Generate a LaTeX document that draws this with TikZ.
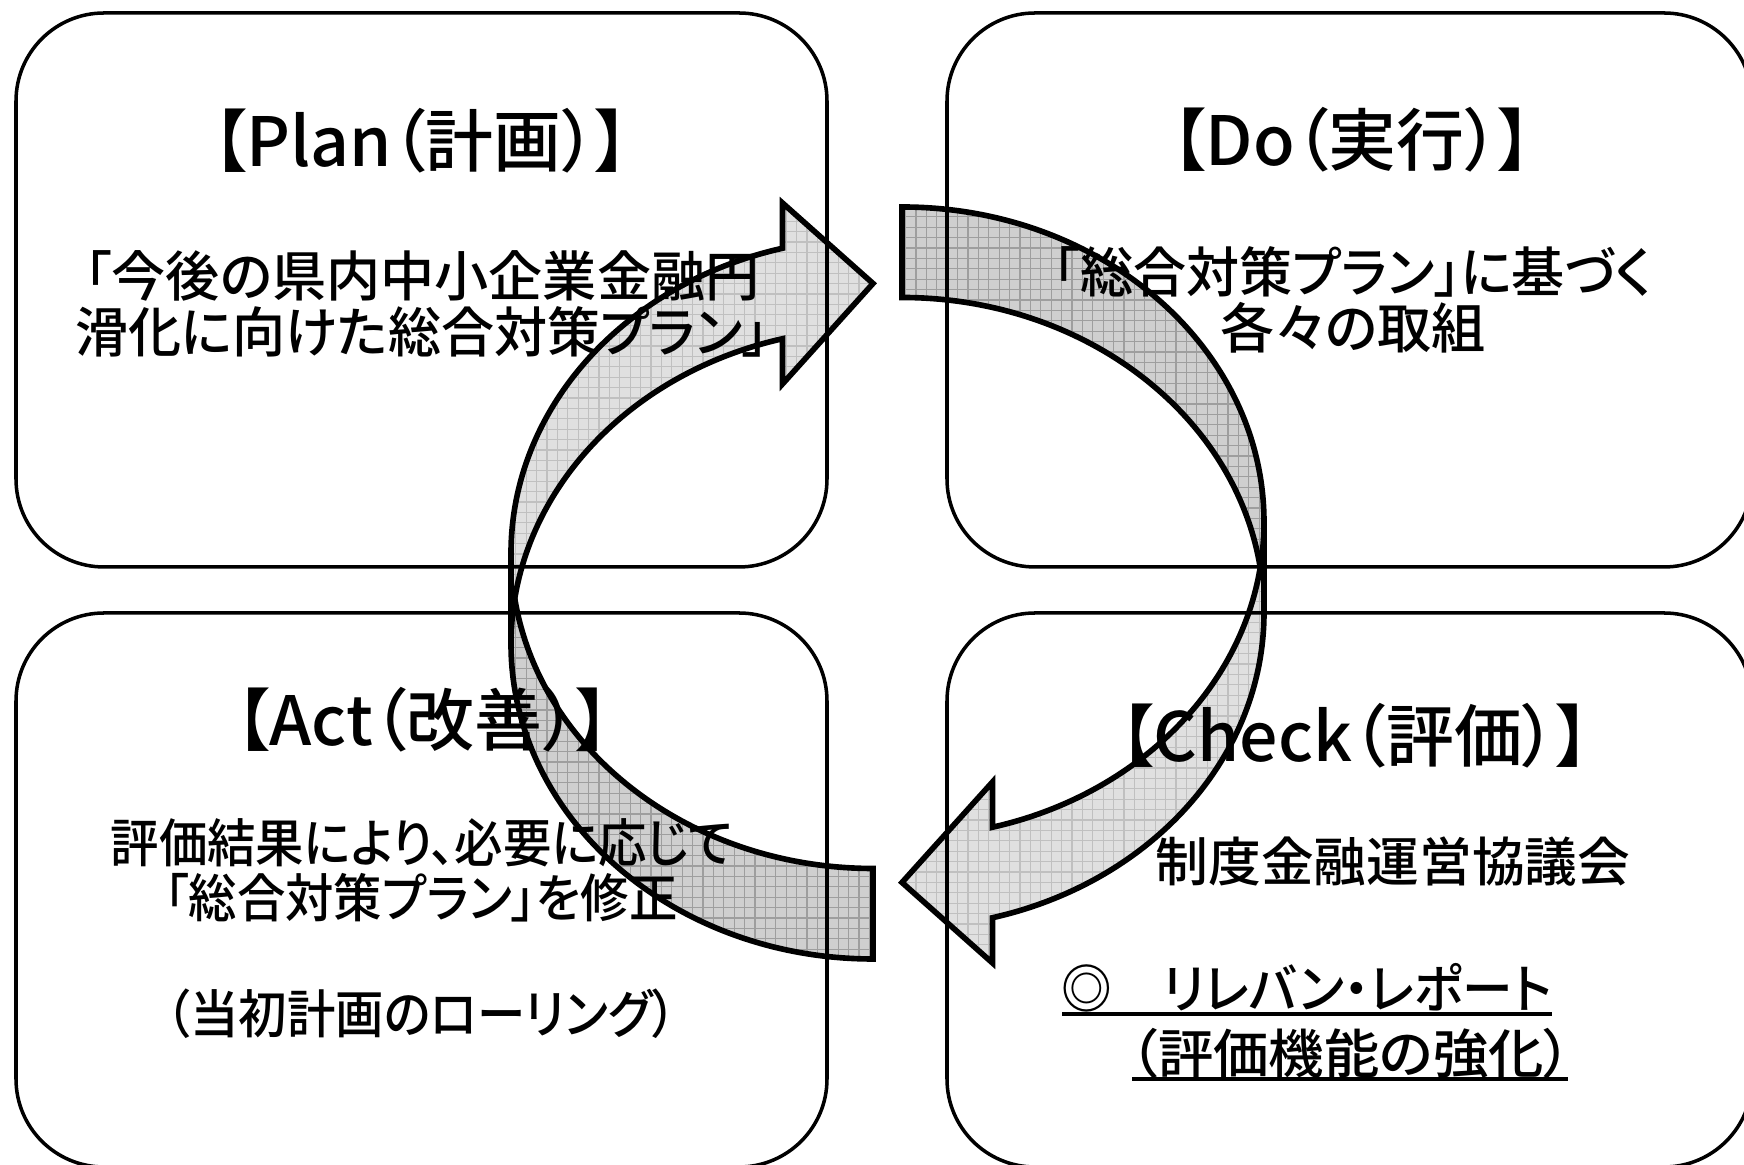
\documentclass[tikz,border=0pt]{standalone}
\usepackage{graphicx}
\usepackage{fontspec}
\setmainfont{Noto Sans CJK JP Medium}[RawFeature=+palt,BoldFont={Noto Sans CJK JP Bold}]
\definecolor{frontfill}{HTML}{E0E0E0}
\definecolor{frontgrid}{HTML}{C0C0C0}
\definecolor{backfill}{HTML}{CFCFCF}
\definecolor{backgrid}{HTML}{9E9E9E}
\def\frontA{(511,553.375) arc[start angle=180,end angle=255.52,x radius=362,y radius=315.125] -- (782.5,203) -- (873,283.5) -- (782.5,384) -- (782.5,338.755) arc[start angle=255.52,end angle=180,x radius=362,y radius=315.125] -- cycle}
\def\backA{(873,959) arc[start angle=90,end angle=188.255,x radius=362,y radius=315.125] arc[start angle=171.745,end angle=90,x radius=362,y radius=315.125] -- cycle}
\def\backlineA{(511,643.875) arc[start angle=180,end angle=90,x radius=362,y radius=315.125] -- (873,868.5) arc[start angle=90,end angle=171.745,x radius=362,y radius=315.125]}
\newcommand{\bandfill}[3]{%
  \begin{scope}
    \clip #1;
    \fill[#2] (495,190) rectangle (885,970);
    \foreach \gx in {495,505.4,...,885} \draw[#3,line width=0.3pt] (\gx,190) -- (\gx,970);
    \foreach \gy in {190,200.4,...,970} \draw[#3,line width=0.3pt] (495,\gy) -- (885,\gy);
  \end{scope}}
\newcommand{\hsq}[2]{\scalebox{#1}[1]{#2}}
\begin{document}
\begin{tikzpicture}[x=0.01cm,y=-0.01cm,
  box/.style={draw=black,line width=1.0pt,rounded corners=0.88cm},
  ttl/.style={font=\fontsize{19.3pt}{21pt}\selectfont,inner sep=0pt},
  body/.style={font=\fontsize{15.4pt}{15.9pt}\selectfont,inner sep=0pt,align=center},
  actbody/.style={font=\fontsize{14.8pt}{15.9pt}\selectfont,inner sep=0pt},
  chkbody/.style={font=\fontsize{15pt}{15.9pt}\selectfont,inner sep=0pt},
  arrowline/.style={draw=black,line width=1.6pt,line join=miter}]
\clip (0,0) rectangle (1744,1165);
\fill[white] (0,0) rectangle (1744,1165);
% arrow fills
\bandfill{\backA}{backfill}{backgrid}
\bandfill{\frontA}{frontfill}{frontgrid}
\begin{scope}[rotate around={180:(887.5,583)}]
  \bandfill{\backA}{backfill}{backgrid}
  \bandfill{\frontA}{frontfill}{frontgrid}
\end{scope}
% boxes
\draw[box] (16,13) rectangle (827,567);
\draw[box] (947,13) rectangle (1752,567);
\draw[box] (16,613) rectangle (827,1167);
\draw[box] (947,613) rectangle (1752,1167);
% texts
\node[ttl] (plant) at (421,141) {【Plan（計画）】};
\node[body] (planb) at (422,304) {「今後の県内中小企業金融円\\\hsq{0.98}{滑化に向けた総合対策プラン」}};
\node[ttl] (dot) at (1352,140) {【Do（実行）】};
\node[body] (dob) at (1353,300) {\hsq{0.98}{「総合対策プラン」に基づく}\\各々の取組};
\node[ttl] (actt) at (423,720) {【Act（改善）】};
\node[actbody] (actb1) at (422,843) {\hsq{0.93}{評価結果により、必要に応じて}};
\node[actbody] (actb2) at (421,898) {\hsq{0.93}{「総合対策プラン」を修正}};
\node[actbody] (actc) at (421,1014) {\hsq{0.93}{（当初計画のローリング）}};
\node[ttl] (chkt) at (1355,736) {【Check（評価）】};
\node[chkbody] (chkb) at (1393,862) {制度金融運営協議会};
\node[chkbody] (chkr) at (1307,988) {\hsq{0.96}{\textbf{◎}　リレバン・レポート}};
\node[chkbody] (chke) at (1351,1053) {\hsq{1.05}{（評価機能の強化）}};
\draw[line width=0.9pt] (1062,1014) -- (1552,1014);
\draw[line width=0.9pt] (1132,1079) -- (1568,1079);
% arrow outlines
\draw[arrowline] \frontA;
\draw[arrowline] \backlineA;
\begin{scope}[rotate around={180:(887.5,583)}]
  \draw[arrowline] \frontA;
  \draw[arrowline] \backlineA;
\end{scope}
\end{tikzpicture}
\end{document}
